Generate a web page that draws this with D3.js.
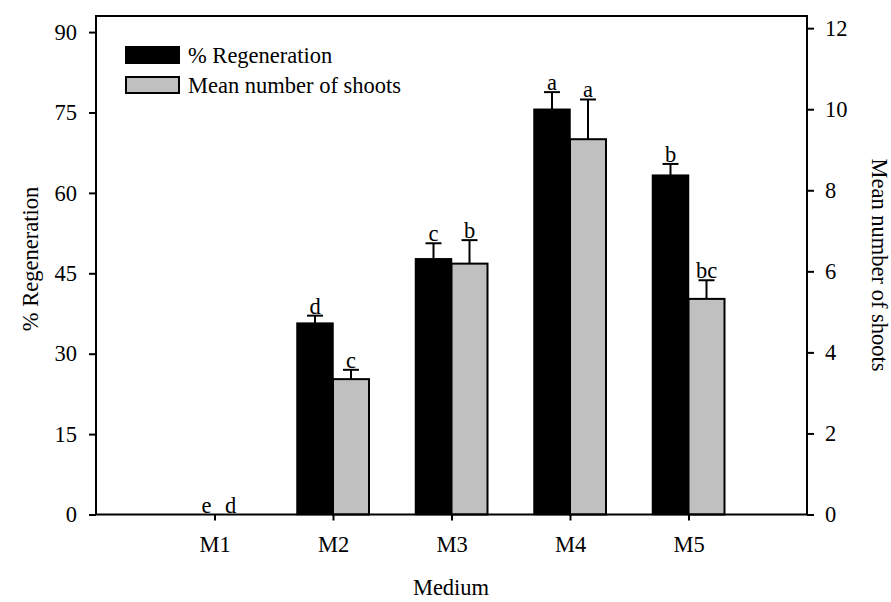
<!DOCTYPE html>
<html><head><meta charset="utf-8">
<script src="https://cdn.jsdelivr.net/npm/d3@7"></script>
<style>body{margin:0;background:#fff}svg{display:block}text{font-family:"Liberation Serif","Times New Roman",serif;fill:#000}</style>
</head><body><svg id="c" width="891" height="602"></svg>
<script>
const categories = ["M1","M2","M3","M4","M5"];
const regen = [0, 35.7, 47.7, 75.6, 63.3];
const regenErr = [0, 1.4, 2.9, 3.2, 2.1];
const regenLetters = ["e","d","c","a","b"];
const shoots = [0, 3.34, 6.19, 9.26, 5.32];
const shootsErr = [0, 0.23, 0.58, 0.98, 0.46];
const shootsLetters = ["d","c","b","a","bc"];
const leftTicks = [0,15,30,45,60,75,90];
const rightTicks = [0,2,4,6,8,10,12];
const seriesNames = ["% Regeneration","Mean number of shoots"];

const FS = 22.5;
const svg = d3.select("#c");
const L=96, R=807, T=16, B=514.5;
const x = d3.scaleLinear().domain([0,6]).range([L,R]);
const yL = d3.scaleLinear().domain([0,93]).range([B,T]);
const yR = d3.scaleLinear().domain([0,12.3]).range([B,T]);
const bw = 36;

// bars
const g = svg.append("g");
categories.forEach((c,i)=>{
  const cx = x(i+1);
  if(regen[i]>0){
    g.append("rect").attr("x",cx-bw).attr("y",yL(regen[i])).attr("width",bw).attr("height",B-yL(regen[i]))
      .attr("fill","#000").attr("stroke","#000").attr("stroke-width",1.5);
    const top=yL(regen[i]+regenErr[i]);
    g.append("line").attr("x1",cx-bw/2).attr("x2",cx-bw/2).attr("y1",yL(regen[i])).attr("y2",top).attr("stroke","#000").attr("stroke-width",2);
    g.append("line").attr("x1",cx-bw/2-8).attr("x2",cx-bw/2+8).attr("y1",top).attr("y2",top).attr("stroke","#000").attr("stroke-width",2);
  }
  if(shoots[i]>0){
    g.append("rect").attr("x",cx).attr("y",yR(shoots[i])).attr("width",bw).attr("height",B-yR(shoots[i]))
      .attr("fill","#c0c0c0").attr("stroke","#000").attr("stroke-width",2);
    const top=yR(shoots[i]+shootsErr[i]);
    g.append("line").attr("x1",cx+bw/2).attr("x2",cx+bw/2).attr("y1",yR(shoots[i])).attr("y2",top).attr("stroke","#000").attr("stroke-width",2);
    g.append("line").attr("x1",cx+bw/2-8).attr("x2",cx+bw/2+8).attr("y1",top).attr("y2",top).attr("stroke","#000").attr("stroke-width",2);
  }
  const lx1 = regen[i]>0 ? cx-bw/2 : cx-8;
  const lx2 = shoots[i]>0 ? cx+bw/2 : cx+16;
  g.append("text").attr("x",lx1).attr("y",yL(regen[i]+regenErr[i])-2).attr("text-anchor","middle").attr("font-size",FS).text(regenLetters[i]);
  g.append("text").attr("x",lx2).attr("y",yR(shoots[i]+shootsErr[i])-2).attr("text-anchor","middle").attr("font-size",FS).text(shootsLetters[i]);
});

// frame
svg.append("rect").attr("x",L).attr("y",T).attr("width",R-L).attr("height",B-T).attr("fill","none").attr("stroke","#000").attr("stroke-width",2);

// axes
const axL = svg.append("g").attr("transform",`translate(${L},0)`)
  .call(d3.axisLeft(yL).tickValues(leftTicks).tickSize(7).tickPadding(12));
const axR = svg.append("g").attr("transform",`translate(${R},0)`)
  .call(d3.axisRight(yR).tickValues(rightTicks).tickSize(7).tickPadding(11));
const axB = svg.append("g").attr("transform",`translate(0,${B})`)
  .call(d3.axisBottom(x).tickValues([1,2,3,4,5]).tickFormat(d=>categories[d-1]).tickSize(6).tickPadding(16));
[axL,axR,axB].forEach(a=>{
  a.select(".domain").remove();
  a.selectAll(".tick line").attr("stroke","#000").attr("stroke-width",2);
  a.selectAll(".tick text").attr("font-family","Liberation Serif").attr("font-size",FS).attr("fill","#000");
});

// axis titles
svg.append("text").attr("transform","translate(38,259) rotate(-90)").attr("text-anchor","middle").attr("font-size",FS).text("% Regeneration");
svg.append("text").attr("transform","translate(872,265) rotate(90)").attr("text-anchor","middle").attr("font-size",FS).text("Mean number of shoots");
svg.append("text").attr("x",451).attr("y",595).attr("text-anchor","middle").attr("font-size",FS).text("Medium");

// legend
const legFill=["#000","#c0c0c0"];
seriesNames.forEach((n,i)=>{
  const yy = 47 + i*30;
  svg.append("rect").attr("x",126).attr("y",yy).attr("width",53).attr("height",16).attr("fill",legFill[i]).attr("stroke","#000").attr("stroke-width",2);
  svg.append("text").attr("x",188).attr("y",yy+16).attr("font-size",FS).text(n);
});
</script></body></html>
